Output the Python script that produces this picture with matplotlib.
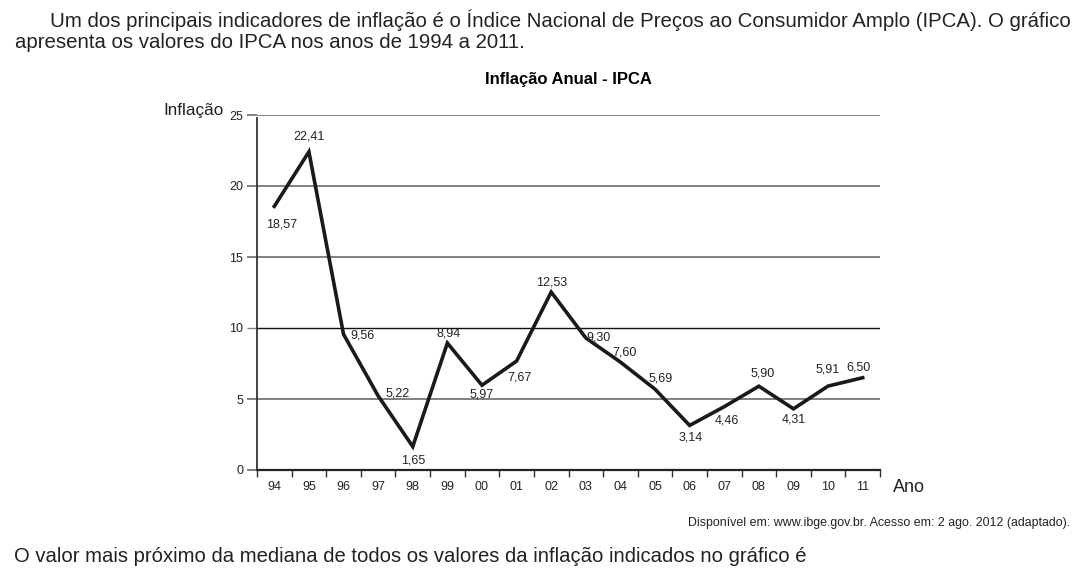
import matplotlib.pyplot as plt
import numpy as np

plt.rcParams['font.family'] = ['Liberation Sans', 'DejaVu Sans']

# dados do grafico
anos = ["94", "95", "96", "97", "98", "99", "00", "01", "02",
        "03", "04", "05", "06", "07", "08", "09", "10", "11"]
ipca = [18.57, 22.41, 9.56, 5.22, 1.65, 8.94, 5.97, 7.67, 12.53,
        9.30, 7.60, 5.69, 3.14, 4.46, 5.90, 4.31, 5.91, 6.50]
y_ticks = [0, 5, 10, 15, 20, 25]

# deslocamento dos rotulos (em pontos)
offsets = [(5, -13), (0, 11), (14, -1), (14, 2), (0, -10), (1, 7),
           (0, -7), (2, -12), (0, 7), (9, 0), (3, 7), (4, 8),
           (1, -9), (2, -10), (3, 9), (0, -8), (0, 12), (-3, 7)]

fig = plt.figure(figsize=(10.77, 5.82), dpi=100)
ax = fig.add_axes([257/1077, 1 - 470/582, 623/1077, 355/582])

x = np.arange(len(anos)) + 0.5
ax.plot(x, ipca, color='#1a1a1a', lw=2.6, solid_joinstyle='miter', zorder=3)

for xi, v, (dx, dy) in zip(x, ipca, offsets):
    ax.annotate(f"{v:.2f}".replace('.', ','), (xi, v), xytext=(dx, dy),
                textcoords='offset points', ha='center', va='center',
                fontsize=9, color='#222222')

ax.set_xlim(0, len(anos))
ax.set_ylim(0, 25)
ax.set_yticks(y_ticks)
ax.set_yticklabels([str(t) for t in y_ticks], fontsize=9, color='#222222')
ax.yaxis.grid(True, color='#808080', lw=1.4)
ax.tick_params(axis='y', length=7, color='#808080', width=1.4, pad=3)

# a linha do 10 e preta e fina no original
for t, gl, tk in zip(y_ticks, ax.get_ygridlines(), ax.yaxis.get_major_ticks()):
    if t == 10:
        gl.set_color('#111111')
        gl.set_linewidth(1)
        tk.tick1line.set_color('#111111')
        tk.tick1line.set_markeredgewidth(1)

ax.set_xticks(np.arange(len(anos) + 1))
ax.set_xticklabels([])
ax.set_xticks(x, minor=True)
ax.set_xticklabels(anos, minor=True, fontsize=9, color='#222222')
ax.tick_params(axis='x', which='major', length=5, width=1, color='#333333')
ax.tick_params(axis='x', which='minor', length=0, pad=8)

for s in ['top', 'right']:
    ax.spines[s].set_visible(False)
ax.spines['bottom'].set_linewidth(1.6)
ax.spines['bottom'].set_color('#222222')
ax.spines['left'].set_color('#333333')
ax.spines['left'].set_linewidth(1.3)
ax.spines['left'].set_bounds(0, 24.8)

ax.set_title("Inflação Anual - IPCA", fontsize=12, fontweight='bold', pad=22)
fig.text(163/1077, 1 - 111/582, "Inflação", fontsize=12.3, va='center', ha='left', color='#222222')
fig.text(893/1077, 1 - 487/582, "Ano", fontsize=13, va='center', ha='left', color='#222222')

fig.text(50/1077, 1 - 20/582,
         "Um dos principais indicadores de inflação é o Índice Nacional de Preços ao Consumidor Amplo (IPCA). O gráfico",
         fontsize=14.7, va='center', ha='left', color='#222222')
fig.text(15/1077, 1 - 42/582, "apresenta os valores do IPCA nos anos de 1994 a 2011.",
         fontsize=14.7, va='center', ha='left', color='#222222')
fig.text(1070/1077, 1 - 523/582,
         "Disponível em: www.ibge.gov.br. Acesso em: 2 ago. 2012 (adaptado).",
         fontsize=8.9, va='center', ha='right', color='#222222')
fig.text(14/1077, 1 - 556/582,
         "O valor mais próximo da mediana de todos os valores da inflação indicados no gráfico é",
         fontsize=14.6, va='center', ha='left', color='#222222')

fig.savefig("out.png", dpi=100)
